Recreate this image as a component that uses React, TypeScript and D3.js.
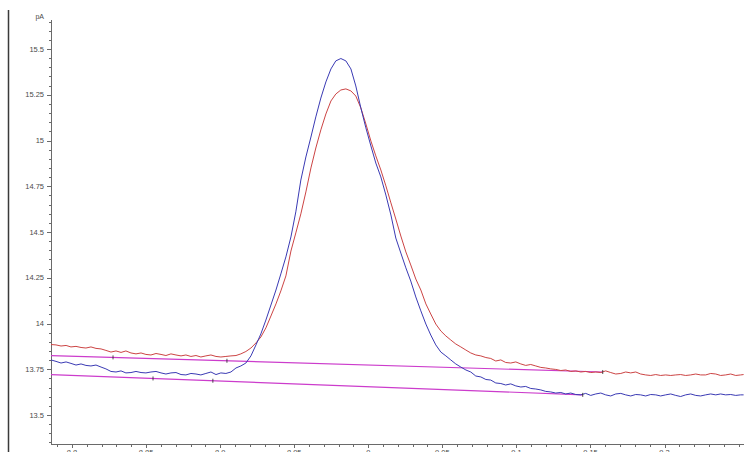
import React, { useEffect, useRef } from "react";
import * as d3 from "d3";

// retention time (min)
const times = [
  8.7858, 8.7892, 8.7926, 8.796, 8.7993, 8.8027, 8.8061, 8.8094, 8.8128, 8.8162,
  8.8196, 8.8229, 8.8263, 8.8297, 8.8331, 8.8364, 8.8398, 8.8432, 8.8466, 8.8499,
  8.8533, 8.8567, 8.8601, 8.8634, 8.8668, 8.8702, 8.8736, 8.8769, 8.8803, 8.8837,
  8.887, 8.8904, 8.8938, 8.8972, 8.9005, 8.9039, 8.9073, 8.9107, 8.914, 8.9174,
  8.9208, 8.9242, 8.9275, 8.9309, 8.9343, 8.9377, 8.941, 8.9444, 8.9478, 8.9511,
  8.9545, 8.9579, 8.9613, 8.9646, 8.968, 8.9714, 8.9748, 8.9781, 8.9815, 8.9849,
  8.9883, 8.9916, 8.995, 8.9984, 9.0018, 9.0051, 9.0085, 9.0119, 9.0153, 9.0186,
  9.022, 9.0254, 9.0287, 9.0321, 9.0355, 9.0389, 9.0422, 9.0456, 9.049, 9.0524,
  9.0557, 9.0591, 9.0625, 9.0659, 9.0692, 9.0726, 9.076, 9.0794, 9.0827, 9.0861,
  9.0895, 9.0928, 9.0962, 9.0996, 9.103, 9.1063, 9.1097, 9.1131, 9.1165, 9.1198,
  9.1232, 9.1266, 9.13, 9.1333, 9.1367, 9.1401, 9.1435, 9.1468, 9.1502, 9.1536,
  9.157, 9.1603, 9.1637, 9.1671, 9.1705, 9.1738, 9.1772, 9.1806, 9.1839, 9.1873,
  9.1907, 9.1941, 9.1974, 9.2008, 9.2042, 9.2076, 9.2109, 9.2143, 9.2177, 9.2211,
  9.2244, 9.2278, 9.2312, 9.2346, 9.2379, 9.2413, 9.2447, 9.2481, 9.2514, 9.2534,
];

// detector signal (pA)
const redSignal = [
  13.885, 13.883, 13.877, 13.88, 13.872, 13.875, 13.869, 13.866, 13.872, 13.864,
  13.861, 13.853, 13.844, 13.85, 13.842, 13.85, 13.839, 13.834, 13.839, 13.831,
  13.828, 13.836, 13.831, 13.825, 13.834, 13.828, 13.823, 13.828, 13.82, 13.825,
  13.817, 13.823, 13.828, 13.82, 13.817, 13.82, 13.823, 13.825, 13.834, 13.847,
  13.866, 13.894, 13.926, 13.976, 14.041, 14.107, 14.178, 14.26, 14.396, 14.495,
  14.599, 14.719, 14.85, 14.959, 15.058, 15.145, 15.216, 15.254, 15.276, 15.282,
  15.271, 15.243, 15.178, 15.09, 14.997, 14.916, 14.839, 14.752, 14.659, 14.571,
  14.478, 14.391, 14.32, 14.243, 14.183, 14.107, 14.052, 13.997, 13.959, 13.932,
  13.91, 13.888, 13.872, 13.855, 13.839, 13.828, 13.823, 13.814, 13.809, 13.795,
  13.801, 13.787, 13.784, 13.79, 13.779, 13.771, 13.776, 13.768, 13.76, 13.757,
  13.752, 13.749, 13.743, 13.746, 13.738, 13.741, 13.735, 13.738, 13.732, 13.735,
  13.732, 13.741, 13.732, 13.724, 13.727, 13.735, 13.73, 13.735, 13.724, 13.719,
  13.716, 13.721, 13.716, 13.719, 13.716, 13.719, 13.721, 13.716, 13.719, 13.724,
  13.719, 13.719, 13.727, 13.724, 13.716, 13.719, 13.724, 13.716, 13.719, 13.721,
];

const blueSignal = [
  13.801, 13.793, 13.784, 13.79, 13.782, 13.773, 13.779, 13.771, 13.768, 13.773,
  13.762, 13.752, 13.738, 13.735, 13.741, 13.73, 13.732, 13.738, 13.732, 13.73,
  13.735, 13.738, 13.73, 13.724, 13.73, 13.732, 13.721, 13.719, 13.727, 13.724,
  13.719, 13.727, 13.735, 13.721, 13.73, 13.727, 13.735, 13.757, 13.768, 13.784,
  13.823, 13.883, 13.943, 14.019, 14.101, 14.183, 14.271, 14.364, 14.473, 14.61,
  14.784, 14.91, 15.019, 15.129, 15.232, 15.32, 15.391, 15.435, 15.448, 15.435,
  15.391, 15.298, 15.178, 15.069, 14.97, 14.877, 14.801, 14.702, 14.593, 14.467,
  14.385, 14.304, 14.232, 14.145, 14.069, 13.997, 13.937, 13.883, 13.844, 13.823,
  13.801, 13.779, 13.762, 13.746, 13.735, 13.713, 13.708, 13.694, 13.691, 13.675,
  13.672, 13.664, 13.67, 13.659, 13.653, 13.656, 13.645, 13.642, 13.637, 13.629,
  13.626, 13.62, 13.623, 13.615, 13.62, 13.612, 13.61, 13.618, 13.607, 13.615,
  13.62, 13.61, 13.604, 13.615, 13.618, 13.61, 13.604, 13.612, 13.61, 13.604,
  13.612, 13.61, 13.604, 13.61, 13.615, 13.607, 13.601, 13.61, 13.615, 13.607,
  13.604, 13.61, 13.615, 13.61, 13.615, 13.61, 13.612, 13.607, 13.61, 13.61,
];

// integration baselines [time, pA]
const redBaseline = [[8.7858, 13.825], [9.1583, 13.735]];
const blueBaseline = [[8.7858, 13.721], [9.1448, 13.61]];
const redMarks = [8.8277, 8.9046, 9.1583];
const blueMarks = [8.8547, 8.8951, 9.1448];

const xTicks = [8.8, 8.85, 8.9, 8.95, 9, 9.05, 9.1, 9.15, 9.2];
const yTicks = [13.5, 13.75, 14, 14.25, 14.5, 14.75, 15, 15.25, 15.5];

const W = 744;
const H = 452;

const Chromatogram = () => {
  const svgRef = useRef(null);

  useEffect(() => {
    const svg = d3.select(svgRef.current);
    svg.selectAll("*").remove();

    const left = 51;
    const top = 20;
    const bottom = 444;

    const x = d3.scaleLinear().domain([8.8, 9.2]).range([72, 664.5]);
    const y = d3.scaleLinear().domain([13.5, 15.5]).range([415, 49]);

    svg.append("defs")
      .append("clipPath")
      .attr("id", "plotClip")
      .append("rect")
      .attr("x", left)
      .attr("y", top)
      .attr("width", W - left)
      .attr("height", bottom - top);

    // frame line on the far left
    svg.append("line")
      .attr("x1", 8.5).attr("x2", 8.5)
      .attr("y1", 10).attr("y2", H)
      .attr("stroke", "#3a3a3a")
      .attr("stroke-width", 1.5);

    const axisColor = "#6a6a6a";
    const textColor = "#4a4a4a";
    const font = "Liberation Sans, Arial, sans-serif";

    // y axis
    svg.append("line")
      .attr("x1", left + 0.5).attr("x2", left + 0.5)
      .attr("y1", top).attr("y2", bottom)
      .attr("stroke", axisColor);

    const yMinor = d3.range(13.35, 15.66, 0.05).map((v) => +v.toFixed(2));
    svg.selectAll(".yminor")
      .data(yMinor)
      .join("line")
      .attr("x1", left - 2).attr("x2", left)
      .attr("y1", (d) => Math.round(y(d)) + 0.5)
      .attr("y2", (d) => Math.round(y(d)) + 0.5)
      .attr("stroke", axisColor);

    svg.selectAll(".ymajor")
      .data(yTicks)
      .join("line")
      .attr("x1", left - 4).attr("x2", left)
      .attr("y1", (d) => Math.round(y(d)) + 0.5)
      .attr("y2", (d) => Math.round(y(d)) + 0.5)
      .attr("stroke", axisColor);

    svg.selectAll(".ylabel")
      .data(yTicks)
      .join("text")
      .attr("x", left - 7)
      .attr("y", (d) => y(d) + 2.7)
      .attr("text-anchor", "end")
      .attr("font-family", font)
      .attr("font-size", 7.5)
      .attr("fill", textColor)
      .text((d) => String(d));

    svg.append("text")
      .attr("x", left - 7)
      .attr("y", 19)
      .attr("text-anchor", "end")
      .attr("font-family", font)
      .attr("font-size", 7)
      .attr("fill", textColor)
      .text("pA");

    // x axis
    svg.append("line")
      .attr("x1", left).attr("x2", W)
      .attr("y1", bottom + 0.5).attr("y2", bottom + 0.5)
      .attr("stroke", axisColor);

    const xMinor = d3.range(8.79, 9.26, 0.01).map((v) => +v.toFixed(2));
    svg.selectAll(".xminor")
      .data(xMinor)
      .join("line")
      .attr("x1", (d) => Math.round(x(d)) + 0.5)
      .attr("x2", (d) => Math.round(x(d)) + 0.5)
      .attr("y1", bottom).attr("y2", bottom + 3)
      .attr("stroke", axisColor);

    svg.selectAll(".xmajor")
      .data(xTicks)
      .join("line")
      .attr("x1", (d) => Math.round(x(d)) + 0.5)
      .attr("x2", (d) => Math.round(x(d)) + 0.5)
      .attr("y1", bottom).attr("y2", bottom + 4)
      .attr("stroke", axisColor);

    svg.selectAll(".xlabel")
      .data(xTicks)
      .join("text")
      .attr("x", (d) => x(d))
      .attr("y", 455)
      .attr("text-anchor", "middle")
      .attr("font-family", font)
      .attr("font-size", 7.5)
      .attr("fill", textColor)
      .text((d) => String(d));

    const plot = svg.append("g").attr("clip-path", "url(#plotClip)");

    const line = d3.line()
      .x((d) => x(d[0]))
      .y((d) => y(d[1]));

    // baselines
    [redBaseline, blueBaseline].forEach((b) => {
      plot.append("path")
        .datum(b)
        .attr("d", line)
        .attr("fill", "none")
        .attr("stroke", "#cc3ccc")
        .attr("stroke-width", 1.2);
    });

    // signals
    const series = [
      { values: redSignal, color: "#cc4444" },
      { values: blueSignal, color: "#3a3ab4" },
    ];
    series.forEach((s) => {
      plot.append("path")
        .datum(times.map((t, i) => [t, s.values[i]]))
        .attr("d", line)
        .attr("fill", "none")
        .attr("stroke", s.color)
        .attr("stroke-width", 1)
        .attr("stroke-linejoin", "round");
    });

    // integration markers
    const marks = [
      { times: redMarks, base: redBaseline },
      { times: blueMarks, base: blueBaseline },
    ];
    marks.forEach((m) => {
      const at = d3.scaleLinear()
        .domain([m.base[0][0], m.base[1][0]])
        .range([m.base[0][1], m.base[1][1]]);
      plot.selectAll(null)
        .data(m.times)
        .join("line")
        .attr("x1", (d) => x(d)).attr("x2", (d) => x(d))
        .attr("y1", (d) => y(at(d)) - 2)
        .attr("y2", (d) => y(at(d)) + 2)
        .attr("stroke", "#222")
        .attr("stroke-width", 0.8);
    });
  }, []);

  return <svg ref={svgRef} width={W} height={H} style={{ display: "block" }} />;
};

export default function App() {
  return (
    <div>
      <style>{`body{margin:0;background:#fff;overflow:hidden}`}</style>
      <Chromatogram />
    </div>
  );
}
